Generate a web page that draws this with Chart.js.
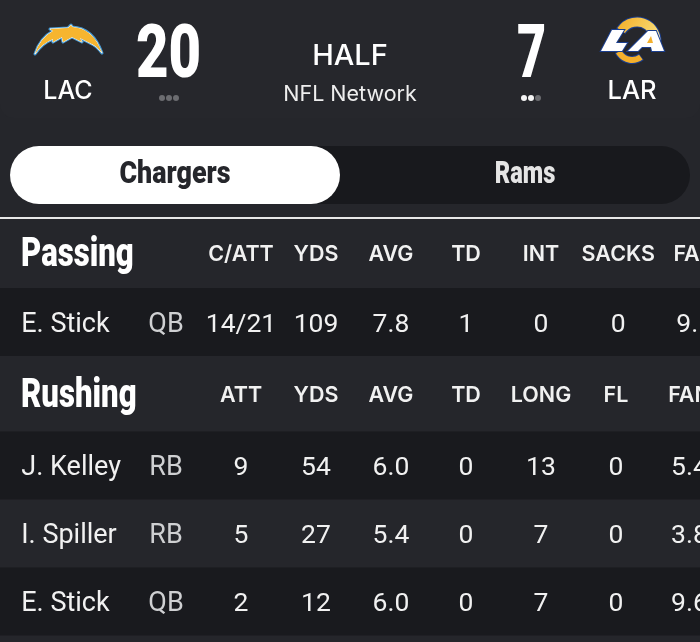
<!DOCTYPE html>
<html>
<head>
<meta charset="utf-8">
<style>
  html, body { margin: 0; padding: 0; background: #25262b; }
  canvas { display: block; }
</style>
<script src="https://cdn.jsdelivr.net/npm/chart.js@4"></script>
</head>
<body>
<canvas id="boxScore" width="700" height="642"></canvas>
<script>
// game header
const teams = ['LAC', 'LAR'];
const scores = ['20', '7'];
const timeoutsLeft = [0, 2];
const gameStatus = 'HALF';
const network = 'NFL Network';
const tabs = ['Chargers', 'Rams'];

// passing table
const passingTitle = 'Passing';
const passingColumns = ['C/ATT', 'YDS', 'AVG', 'TD', 'INT', 'SACKS', 'FAN'];
const passingPlayers = ['E. Stick'];
const passingPositions = ['QB'];
const passingStats = [['14/21', '109', '7.8', '1', '0', '0', '9.1']];

// rushing table
const rushingTitle = 'Rushing';
const rushingColumns = ['ATT', 'YDS', 'AVG', 'TD', 'LONG', 'FL', 'FAN'];
const rushingPlayers = ['J. Kelley', 'I. Spiller', 'E. Stick'];
const rushingPositions = ['RB', 'RB', 'QB'];
const rushingStats = [
    ['9', '54', '6.0', '0', '13', '0', '5.4'],
    ['5', '27', '5.4', '0', '7', '0', '3.8'],
    ['2', '12', '6.0', '0', '7', '0', '9.6']
];

// layout: scales are in table columns and rows
const colStart = 241, colStep = 75, rowStart = 322, rowStep = 68;
const nameSlot = -2.93, posSlot = -1;
const passingSlots = [0, 1, 2, 3, 4, 5.03, 6.05];
const rushingSlots = [0, 1, 2, 3, 4, 5, 5.98];
const passingHeadRow = -1.01, passingRow = 0;
const rushingHeadRow = 1.07, rushingRows = [2.11, 3.11, 4.11];

const white = '#ffffff', soft = '#f1f1f1', muted = '#cfd0d2';
const nameFont = '27px Roboto';
const statFont = '26.5px Roboto';
const headFont = '600 21.5px Inter';

function cellsFor(columns, slots, headRow, players, positions, stats, rows) {
    const cells = [];
    columns.forEach((c, i) => cells.push({ x: slots[i], y: headRow, text: c, font: headFont, color: soft, dy: 1 }));
    players.forEach((p, r) => {
        cells.push({ x: nameSlot, y: rows[r], text: p, font: nameFont, color: soft, align: 'left', dy: 3 });
        cells.push({ x: posSlot, y: rows[r], text: positions[r], font: nameFont, color: muted, dy: 3 });
        stats[r].forEach((v, i) => cells.push({ x: slots[i], y: rows[r], text: v, font: statFont, color: soft, dy: 3 }));
    });
    return cells;
}

function label(ctx, text, x, y, font, color, align, squeeze) {
    ctx.save();
    ctx.font = font;
    ctx.fillStyle = color;
    ctx.textAlign = align || 'center';
    ctx.textBaseline = 'middle';
    ctx.translate(x, y);
    ctx.scale(squeeze || 1, 1);
    ctx.fillText(text, 0, 0);
    ctx.restore();
}

function poly(ctx, pts) {
    ctx.beginPath();
    pts.forEach((p, i) => i ? ctx.lineTo(p[0], p[1]) : ctx.moveTo(p[0], p[1]));
    ctx.closePath();
}

function chargersLogo(ctx) {
    ctx.beginPath();
    ctx.moveTo(35, 54);
    ctx.quadraticCurveTo(40, 38, 53, 31);
    ctx.lineTo(50, 29);
    ctx.lineTo(68, 28);
    ctx.lineTo(71, 25);
    ctx.lineTo(72, 27);
    ctx.quadraticCurveTo(93, 28, 102, 53);
    ctx.quadraticCurveTo(96, 45, 90, 43);
    ctx.lineTo(80, 38);
    ctx.lineTo(82, 42);
    ctx.lineTo(72, 37);
    ctx.lineTo(63, 42);
    ctx.lineTo(62, 37);
    ctx.lineTo(53, 42);
    ctx.lineTo(53, 39);
    ctx.quadraticCurveTo(42, 43, 35, 54);
    ctx.closePath();
    ctx.lineJoin = 'round';
    ctx.lineWidth = 3;
    ctx.strokeStyle = '#4a9bd4';
    ctx.stroke();
    ctx.lineWidth = 1;
    ctx.strokeStyle = '#ffffff';
    ctx.stroke();
    ctx.fillStyle = '#f6b52f';
    ctx.fill();
}

function hornArc(ctx, cx, cy, r, from, to, width, color) {
    ctx.beginPath();
    ctx.arc(cx, cy, r, from, to);
    ctx.lineWidth = width + 2;
    ctx.strokeStyle = '#1b3f8f';
    ctx.stroke();
    ctx.beginPath();
    ctx.arc(cx, cy, r, from + 0.04, to - 0.04);
    ctx.lineWidth = width;
    ctx.strokeStyle = color;
    ctx.stroke();
}

function ramsLogo(ctx) {
    const horn = ctx.createLinearGradient(620, 20, 662, 48);
    horn.addColorStop(0, '#f4b02c');
    horn.addColorStop(0.65, '#f7d56b');
    horn.addColorStop(1, '#ffffff');
    hornArc(ctx, 637, 41, 19, -2.6, 0.3, 9, horn);
    hornArc(ctx, 632, 45, 15, 0.9, 2.7, 6, '#f4b02c');
    // L and A
    ctx.lineJoin = 'miter';
    const letterL = [[601, 51], [612, 30], [624, 30], [616, 43], [627, 43], [622, 51]];
    const letterA = [[628, 51], [648, 31], [656, 31], [664, 51], [652, 51], [651, 47], [642, 47], [638, 51]];
    [letterL, letterA].forEach(pts => {
        poly(ctx, pts);
        ctx.lineWidth = 2;
        ctx.strokeStyle = '#1b3f8f';
        ctx.stroke();
        ctx.fillStyle = white;
        ctx.fill();
    });
    poly(ctx, [[647, 43], [651, 36], [653, 43]]);
    ctx.fillStyle = '#f4b02c';
    ctx.fill();
}

function timeoutDots(ctx, cx, left) {
    [-7, 0, 7].forEach((dx, i) => {
        ctx.beginPath();
        ctx.arc(cx + dx, 98, 3, 0, Math.PI * 2);
        ctx.fillStyle = i < left ? '#f5f5f5' : '#6b6c70';
        ctx.fill();
    });
}

// page furniture behind the table rows
const backdrop = {
    id: 'backdrop',
    beforeDatasetsDraw(chart) {
        const ctx = chart.ctx;
        const y = chart.scales.y;
        ctx.save();
        ctx.fillStyle = '#25262b';
        ctx.fillRect(0, 0, 700, 642);

        // score card
        ctx.fillStyle = '#26272c';
        ctx.beginPath();
        ctx.roundRect(0, -20, 700, 138, 14);
        ctx.fill();

        chargersLogo(ctx);
        ramsLogo(ctx);
        label(ctx, teams[0], 68, 91, '500 25px Inter', white);
        label(ctx, teams[1], 632, 91, '500 25.5px Inter', white);
        label(ctx, scores[0], 168.5, 58, '900 74px Roboto', white, 'center', 0.76);
        label(ctx, scores[1], 531.5, 58, '900 74px Roboto', white, 'center', 0.68);
        timeoutDots(ctx, 169, timeoutsLeft[0]);
        timeoutDots(ctx, 531, timeoutsLeft[1]);
        label(ctx, gameStatus, 350, 56, '500 29px Inter', white);
        label(ctx, network, 350, 95, '400 21.5px Inter', '#eeeeee');

        // team tabs
        ctx.fillStyle = '#18191d';
        ctx.beginPath();
        ctx.roundRect(10, 146, 680, 58, 29);
        ctx.fill();
        ctx.fillStyle = white;
        ctx.beginPath();
        ctx.roundRect(10, 146, 330, 58, 29);
        ctx.fill();
        label(ctx, tabs[0], 175, 175, '900 32px Roboto', '#25262b', 'center', 0.84);
        label(ctx, tabs[1], 525, 175, '900 32px Roboto', '#e5e5e5', 'center', 0.74);

        // divider
        ctx.fillStyle = '#e8e8e8';
        ctx.fillRect(0, 217, 700, 2);

        // striped rows
        ctx.fillStyle = '#191a1e';
        [passingRow, rushingRows[0], rushingRows[2]].forEach(r => {
            const top = y.getPixelForValue(r - 0.5);
            const bottom = y.getPixelForValue(r + 0.5);
            ctx.fillRect(0, top, 700, bottom - top);
        });

        // section titles
        label(ctx, passingTitle, 21, y.getPixelForValue(passingHeadRow) + 2, '900 41px Roboto', white, 'left', 0.76);
        label(ctx, rushingTitle, 21, y.getPixelForValue(rushingHeadRow) + 2, '900 41px Roboto', white, 'left', 0.76);
        ctx.restore();
    }
};

// writes each table cell at the point the scales gave it
const cellText = {
    id: 'cellText',
    afterDatasetsDraw(chart) {
        chart.data.datasets.forEach((ds, d) => {
            chart.getDatasetMeta(d).data.forEach((pt, i) => {
                const c = ds.data[i];
                label(chart.ctx, c.text, pt.x, pt.y + c.dy, c.font, c.color, c.align);
            });
        });
    }
};

new Chart(document.getElementById('boxScore').getContext('2d'), {
    type: 'scatter',
    data: {
        datasets: [
            { label: passingTitle, pointRadius: 0, data: cellsFor(passingColumns, passingSlots, passingHeadRow, passingPlayers, passingPositions, passingStats, [passingRow]) },
            { label: rushingTitle, pointRadius: 0, data: cellsFor(rushingColumns, rushingSlots, rushingHeadRow, rushingPlayers, rushingPositions, rushingStats, rushingRows) }
        ]
    },
    options: {
        responsive: false,
        animation: false,
        clip: false,
        layout: { padding: 0 },
        plugins: { legend: { display: false }, tooltip: { enabled: false } },
        scales: {
            x: { type: 'linear', display: false, min: -colStart / colStep, max: (700 - colStart) / colStep },
            y: { type: 'linear', display: false, reverse: true, min: -rowStart / rowStep, max: (642 - rowStart) / rowStep }
        }
    },
    plugins: [backdrop, cellText]
});
</script>
</body>
</html>
